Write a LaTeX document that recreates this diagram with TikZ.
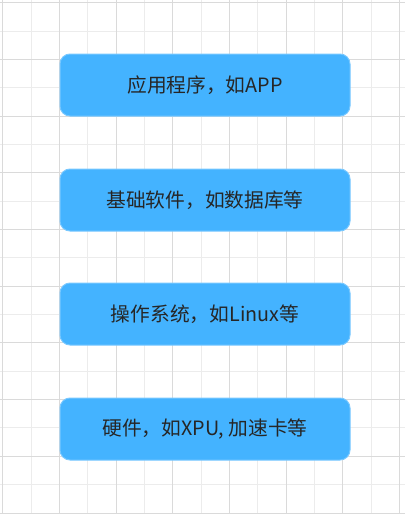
\documentclass[tikz,border=0pt]{standalone}
\usepackage{fontspec}
\setmainfont{Noto Sans CJK SC}
\definecolor{boxblue}{RGB}{68,179,255}
\definecolor{boxedge}{RGB}{120,200,255}
\definecolor{gridmajor}{RGB}{218,218,218}
\definecolor{gridminor}{RGB}{236,236,236}
\tikzset{
  layerbox/.style={draw=boxedge, fill=boxblue, rounded corners=7.5pt, line width=0.75pt,
    minimum width=217.5pt, minimum height=46.5pt, inner sep=0pt,
    text=black!85, font=\fontsize{14.8pt}{17pt}\selectfont},
  majorline/.style={draw=gridmajor, line width=0.75pt},
  minorline/.style={draw=gridminor, line width=0.75pt}
}
\begin{document}
\begin{tikzpicture}[x=0.75pt,y=0.75pt,yscale=-1,xscale=1]
\useasboundingbox (0,0) rectangle (405,514);

% background grid
\foreach \i in {1,3,...,13} {
  \draw[minorline] ({2.7+28.35*\i},0) -- ({2.7+28.35*\i},514);
}
\foreach \j in {1,3,...,17} {
  \draw[minorline] (0,{2.7+28.35*\j}) -- (405,{2.7+28.35*\j});
}
\foreach \i in {0,2,...,14} {
  \draw[majorline] ({2.7+28.35*\i},0) -- ({2.7+28.35*\i},514);
}
\foreach \j in {0,2,...,18} {
  \draw[majorline] (0,{2.7+28.35*\j}) -- (405,{2.7+28.35*\j});
}

% layers
\node[layerbox] (app) at (205,85) {应用程序，如APP};
\node[layerbox] (soft) at (205,200) {基础软件，如数据库等};
\node[layerbox] (os) at (205,314) {操作系统，如Linux等};
\node[layerbox] (hw) at (205,429) {硬件，如XPU, 加速卡等};

\end{tikzpicture}
\end{document}
